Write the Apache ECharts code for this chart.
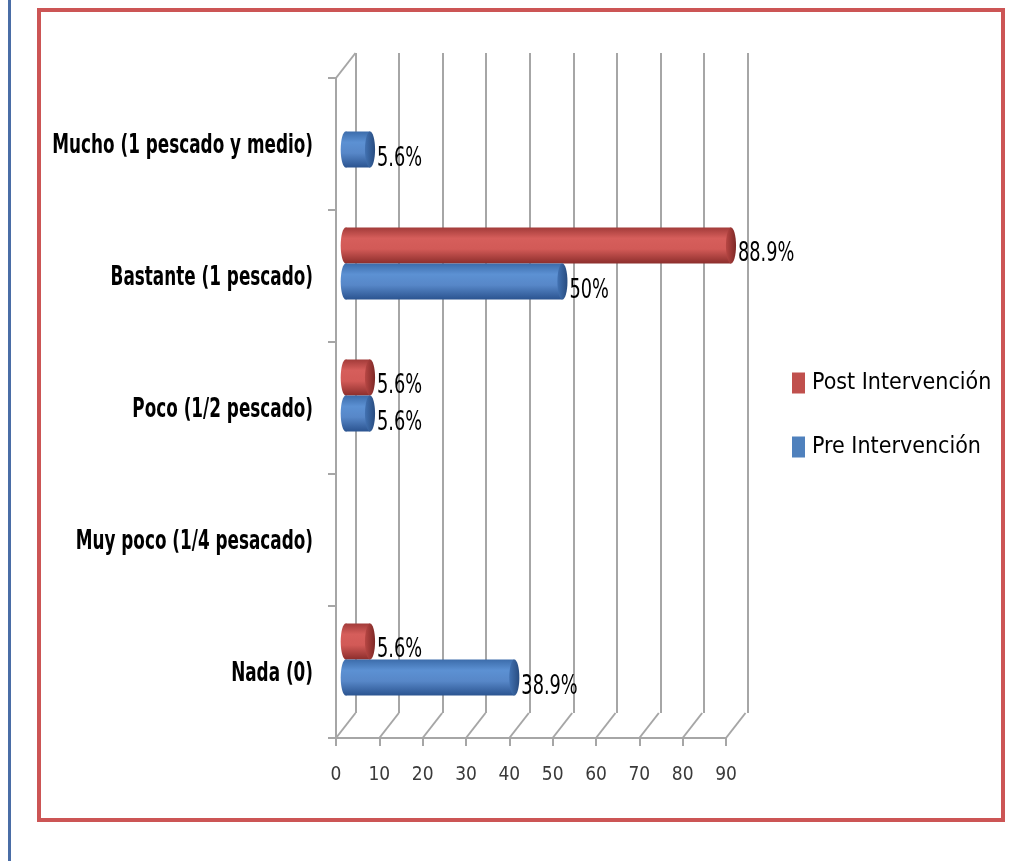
<!DOCTYPE html>
<html>
<head>
<meta charset="utf-8">
<script src="https://cdn.jsdelivr.net/npm/echarts@6/dist/echarts.min.js"></script>
<style>
  html, body { margin: 0; padding: 0; background: #ffffff; }
  #chart { width: 1025px; height: 861px; }
</style>
</head>
<body>
<div id="chart"></div>
<script>
// Categories, bottom to top
const categories = [
  'Nada (0)',
  'Muy poco (1/4 pesacado)',
  'Poco (1/2 pescado)',
  'Bastante (1 pescado)',
  'Mucho (1 pescado y medio)'
];
const seriesNames = ['Post Intervención', 'Pre Intervención'];
// Percentages per category (null = no bar)
const postValues = [5.6, null, 5.6, 88.9, null];
const preValues = [38.9, null, 5.6, 50, 5.6];
const xTicks = [0, 10, 20, 30, 40, 50, 60, 70, 80, 90];

const FONT = "'DejaVu Sans Condensed', 'Liberation Sans Narrow', 'Open Sans', sans-serif";
const GRID_LINE = '#a6a6a6';

// Pseudo-3D layout: front plane (axes), middle plane (bars), back wall (gridlines)
const front = { left: 336, top: 78, width: 390, height: 660 };
const depth = { dx: 19.5, dy: 25 };
const mid = { left: front.left + depth.dx / 2, top: front.top - depth.dy / 2, width: front.width, height: front.height };
const back = { left: front.left + depth.dx, top: front.top - depth.dy, width: front.width + 2, height: front.height };

const palettes = {
  post: {
    base: '#c0504d',
    body: [[0, '#a23b39'], [0.3, '#d65e5b'], [0.6, '#d25a57'], [1, '#8c2e2c']],
    cap: [[0, '#b84744'], [1, '#7e2826']]
  },
  pre: {
    base: '#4f81bd',
    body: [[0, '#3c6cab'], [0.3, '#5c91d3'], [0.6, '#5787c8'], [1, '#2b5490']],
    cap: [[0, '#4272b2'], [1, '#284c80']]
  }
};

function toStops(list) {
  return list.map(function (s) { return { offset: s[0], color: s[1] }; });
}

function cylinderRenderer(pal, upper) {
  return function (params, api) {
    const val = api.value(0);
    const cat = api.value(1);
    const p0 = api.coord([0, cat]);
    const p1 = api.coord([val, cat]);
    const band = api.size([0, 1])[1];
    const h = band * 0.273;
    const yTop = upper ? p0[1] - h : p0[1];
    const cy = yTop + h / 2;
    const rx = h * 0.14;
    const bodyFill = new echarts.graphic.LinearGradient(0, 0, 0, 1, toStops(pal.body));
    const capFill = new echarts.graphic.LinearGradient(0, 0, 1, 0, toStops(pal.cap));
    return {
      type: 'group',
      children: [
        { type: 'ellipse', shape: { cx: p0[0], cy: cy, rx: rx, ry: h / 2 }, style: { fill: bodyFill } },
        { type: 'rect', shape: { x: p0[0], y: yTop, width: Math.max(p1[0] - p0[0], 0.5), height: h }, style: { fill: bodyFill } },
        { type: 'ellipse', shape: { cx: p1[0], cy: cy, rx: rx, ry: h / 2 }, style: { fill: capFill } },
        {
          type: 'text',
          x: p1[0] + rx + 2,
          y: cy + 9,
          scaleX: 0.73,
          style: {
            text: val + '%',
            fontFamily: FONT,
            fontSize: 27,
            fill: '#000000',
            align: 'left',
            verticalAlign: 'middle'
          }
        }
      ]
    };
  };
}

function pairs(values) {
  const out = [];
  values.forEach(function (v, i) { if (v !== null) out.push([v, i]); });
  return out;
}

// Category names to the left of the side wall (narrow bold lettering)
function categoryLabelRenderer(params, api) {
  const idx = api.value(1);
  const p = api.coord([0, idx]);
  return {
    type: 'text',
    x: params.coordSys.x - 23,
    y: p[1] + 2,
    scaleX: 0.72,
    style: {
      text: categories[idx],
      fontFamily: FONT,
      fontSize: 26,
      fontWeight: 'bold',
      fill: '#000000',
      align: 'right',
      verticalAlign: 'middle'
    }
  };
}

// Floor diagonals and the top edge of the side wall
function frameRenderer(params, api) {
  const t = api.value(0);
  const p = api.coord([t, 0]);
  const cs = params.coordSys;
  const bottom = cs.y + cs.height;
  const children = [{
    type: 'line',
    shape: { x1: p[0], y1: bottom, x2: p[0] + depth.dx, y2: bottom - depth.dy },
    style: { stroke: GRID_LINE, lineWidth: 2 }
  }];
  if (params.dataIndex === 0) {
    children.push({
      type: 'line',
      shape: { x1: p[0], y1: cs.y, x2: p[0] + depth.dx, y2: cs.y - depth.dy },
      style: { stroke: GRID_LINE, lineWidth: 2 }
    });
  }
  return { type: 'group', children: children };
}

const chart = echarts.init(document.getElementById('chart'), null, { renderer: 'canvas' });

chart.setOption({
  animation: false,
  backgroundColor: '#ffffff',
  graphic: [
    { type: 'rect', shape: { x: 8, y: 0, width: 3, height: 861 }, style: { fill: '#4a6da6' }, silent: true },
    { type: 'rect', shape: { x: 39, y: 10, width: 964, height: 810 }, style: { fill: 'none', stroke: '#cc5555', lineWidth: 4 }, silent: true }
  ],
  legend: {
    orient: 'vertical',
    left: 792,
    top: 368,
    padding: 0,
    itemWidth: 13,
    itemHeight: 21,
    itemGap: 34,
    icon: 'rect',
    data: seriesNames,
    textStyle: { fontFamily: FONT, fontSize: 23, color: '#000000', lineHeight: 30, padding: [0, 0, 0, 2] }
  },
  grid: [
    { left: front.left, top: front.top, width: front.width, height: front.height, containLabel: false, outerBoundsMode: 'none' },
    { left: back.left, top: back.top, width: back.width, height: back.height, containLabel: false, outerBoundsMode: 'none' },
    { left: mid.left, top: mid.top, width: mid.width, height: mid.height, containLabel: false, outerBoundsMode: 'none' }
  ],
  xAxis: [
    {
      gridIndex: 0, type: 'value', min: 0, max: 90, interval: 10,
      axisLine: { show: true, lineStyle: { color: GRID_LINE, width: 2 } },
      axisTick: { show: true, length: 8, lineStyle: { color: GRID_LINE, width: 2 } },
      splitLine: { show: false },
      axisLabel: {
        fontFamily: FONT, fontSize: 19, color: '#3a3a3a', margin: 28,
        formatter: function (v) { return xTicks.indexOf(v) >= 0 ? String(v) : ''; }
      }
    },
    {
      gridIndex: 1, type: 'value', min: 0, max: 90, interval: 10,
      axisLine: { show: false }, axisTick: { show: false }, axisLabel: { show: false },
      splitLine: { show: true, lineStyle: { color: GRID_LINE, width: 2 } }
    },
    {
      gridIndex: 2, type: 'value', min: 0, max: 90, interval: 10,
      axisLine: { show: false }, axisTick: { show: false }, axisLabel: { show: false },
      splitLine: { show: false }
    }
  ],
  yAxis: [
    {
      gridIndex: 0, type: 'category', data: categories,
      axisLine: { show: true, lineStyle: { color: GRID_LINE, width: 2 } },
      axisTick: { show: true, length: 8, lineStyle: { color: GRID_LINE, width: 2 } },
      axisLabel: { show: false }
    },
    { gridIndex: 1, type: 'category', data: categories, show: false },
    { gridIndex: 2, type: 'category', data: categories, show: false }
  ],
  series: [
    {
      name: seriesNames[0], type: 'custom', xAxisIndex: 2, yAxisIndex: 2,
      itemStyle: { color: palettes.post.base },
      encode: { x: 0, y: 1 },
      data: pairs(postValues),
      renderItem: cylinderRenderer(palettes.post, true),
      clip: false, z: 5
    },
    {
      name: seriesNames[1], type: 'custom', xAxisIndex: 2, yAxisIndex: 2,
      itemStyle: { color: palettes.pre.base },
      encode: { x: 0, y: 1 },
      data: pairs(preValues),
      renderItem: cylinderRenderer(palettes.pre, false),
      clip: false, z: 5
    },
    {
      name: 'categoryLabels', type: 'custom', xAxisIndex: 0, yAxisIndex: 0,
      encode: { x: 0, y: 1 },
      data: categories.map(function (c, i) { return [0, i]; }),
      renderItem: categoryLabelRenderer,
      clip: false, silent: true, z: 3
    },
    {
      name: 'frame', type: 'custom', xAxisIndex: 0, yAxisIndex: 0,
      encode: { x: 0, y: 1 },
      data: xTicks.map(function (t) { return [t, 0]; }),
      renderItem: frameRenderer,
      clip: false, silent: true, z: 1
    }
  ]
});
</script>
</body>
</html>
